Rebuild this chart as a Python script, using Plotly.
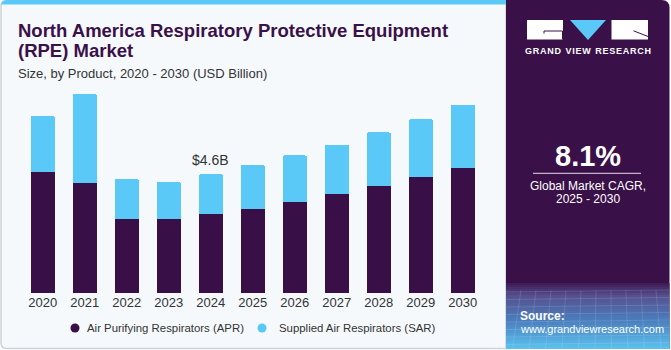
import plotly.graph_objects as go

# ---- data ----
years = ["2020", "2021", "2022", "2023", "2024", "2025", "2026", "2027", "2028", "2029", "2030"]
apr = [4.70, 4.26, 2.87, 2.87, 3.07, 3.27, 3.53, 3.84, 4.15, 4.48, 4.86]
sar = [2.15, 3.44, 1.55, 1.43, 1.53, 1.69, 1.80, 1.90, 2.07, 2.25, 2.43]
series_names = ["Air Purifying Respirators (APR)", "Supplied Air Respirators (SAR)"]
highlight_year = "2024"
highlight_label = "&#36;4.6B"
cagr_text = "8.1%"

W, H = 671, 350
APR_C = "#380f46"
SAR_C = "#5bc9f7"
PANEL_C = "#3a1049"
BG_C = "#f5f9fc"
FONT = "Liberation Sans, Arial, sans-serif"


def px(x):
    return x / W


def py(y):
    return 1 - y / H


fig = go.Figure()
fig.add_trace(go.Bar(x=years, y=apr, name=series_names[0], marker=dict(color=APR_C, line=dict(width=0))))
fig.add_trace(go.Bar(x=years, y=sar, name=series_names[1], marker=dict(color=SAR_C, line=dict(width=0))))

shapes = []
# left panel background
r = 6
x0, x1, y0, y1 = 1, 506, 0.5, 348.5
path = (f"M {px(x0+r)},{py(y0)} L {px(x1)},{py(y0)} L {px(x1)},{py(y1)} L {px(x0+r)},{py(y1)} "
        f"Q {px(x0)},{py(y1)} {px(x0)},{py(y1-r)} L {px(x0)},{py(y0+r)} Q {px(x0)},{py(y0)} {px(x0+r)},{py(y0)} Z")
shapes.append(dict(type="path", xref="paper", yref="paper", path=path, fillcolor=BG_C,
                   line=dict(color="#cdd2d6", width=1.5), layer="below"))
# top blue strip
path = (f"M {px(x0+r)},{py(0)} L {px(x1)},{py(0)} L {px(x1)},{py(4.5)} L {px(x0)},{py(4.5)} "
        f"L {px(x0)},{py(r)} Q {px(x0)},{py(0)} {px(x0+r)},{py(0)} Z")
shapes.append(dict(type="path", xref="paper", yref="paper", path=path, fillcolor=SAR_C,
                   line=dict(width=0), layer="below"))
# right panel
r2 = 8
rx0, rx1, ry0, ry1 = 506, 669.5, 0, 349
path = (f"M {px(rx0)},{py(ry0)} L {px(rx1-r2)},{py(ry0)} Q {px(rx1)},{py(ry0)} {px(rx1)},{py(ry0+r2)} "
        f"L {px(rx1)},{py(ry1)} L {px(rx0)},{py(ry1)} Z")
shapes.append(dict(type="path", xref="paper", yref="paper", path=path, fillcolor=PANEL_C,
                   line=dict(width=0), layer="below"))


# gradient bands at the bottom of right panel
def hex2rgb(h):
    h = h.lstrip("#")
    return tuple(int(h[i:i+2], 16) for i in (0, 2, 4))


stops = [(283, "#3d1a54"), (296, "#56508e"), (320, "#4a7dbd"), (349, "#5bc2ef")]
band = 2
yy = 283
while yy < 349:
    mid = yy + band / 2
    for (ya, ca), (yb, cb) in zip(stops[:-1], stops[1:]):
        if ya <= mid <= yb:
            t = (mid - ya) / (yb - ya)
            a, b = hex2rgb(ca), hex2rgb(cb)
            c = tuple(round(a[i] + (b[i] - a[i]) * t) for i in range(3))
            break
    shapes.append(dict(type="rect", xref="paper", yref="paper", x0=px(rx0), x1=px(rx1),
                       y0=py(min(yy + band, 349)), y1=py(yy), fillcolor=f"rgb{c}",
                       line=dict(width=0), layer="below"))
    yy += band
# faint grid lines in gradient zone
for i in range(12):
    xa = 506 + i * 15
    shapes.append(dict(type="line", xref="paper", yref="paper", x0=px(xa), x1=px(xa - 10 + i * 1.5),
                       y0=py(290), y1=py(349), line=dict(color="rgba(255,255,255,0.12)", width=1), layer="below"))
for j in range(8):
    yl = 292 + j * 7.5
    shapes.append(dict(type="line", xref="paper", yref="paper", x0=px(506), x1=px(669),
                       y0=py(yl), y1=py(yl - 2), line=dict(color="rgba(255,255,255,0.12)", width=1), layer="below"))

# logo
shapes.append(dict(type="rect", xref="paper", yref="paper", x0=px(527), x1=px(563), y0=py(39.5), y1=py(20),
                   fillcolor="white", line=dict(width=0)))
shapes.append(dict(type="path", xref="paper", yref="paper",
                   path=f"M {px(570)},{py(20)} L {px(606)},{py(20)} L {px(588)},{py(40)} Z",
                   fillcolor=SAR_C, line=dict(width=0)))
shapes.append(dict(type="rect", xref="paper", yref="paper", x0=px(611.5), x1=px(648), y0=py(39.5), y1=py(20),
                   fillcolor="white", line=dict(width=0)))
shapes.append(dict(type="path", xref="paper", yref="paper",
                   path=f"M {px(544)},{py(33.5)} L {px(544)},{py(31)} L {px(562.5)},{py(31)} L {px(562.5)},{py(39.5)}",
                   line=dict(color=PANEL_C, width=1)))
shapes.append(dict(type="line", xref="paper", yref="paper", x0=px(633.5), y0=py(30.8), x1=px(648), y1=py(36.5),
                   line=dict(color=PANEL_C, width=1)))
# separator line under CAGR
shapes.append(dict(type="line", xref="paper", yref="paper", x0=px(533), x1=px(641), y0=py(173.3), y1=py(173.3),
                   line=dict(color="rgba(255,255,255,0.85)", width=1)))

# manual legend dots
leg_dots = [(75, APR_C), (262, SAR_C)]
for cx, col in leg_dots:
    shapes.append(dict(type="circle", xref="paper", yref="paper", x0=px(cx - 4.5), x1=px(cx + 4.5),
                       y0=py(328 + 4.5), y1=py(328 - 4.5), fillcolor=col, line=dict(width=0)))

ann = []


def txt(x, y, s, size, color, xanchor="left", bold=False):
    ann.append(dict(x=px(x), y=py(y), xref="paper", yref="paper", text=f"<b>{s}</b>" if bold else s,
                    showarrow=False, xanchor=xanchor, yanchor="middle",
                    font=dict(family=FONT, size=size, color=color)))


txt(16, 30, "North America Respiratory Protective Equipment", 18.5, PANEL_C, bold=True)
txt(16, 51, "(RPE) Market", 18.5, PANEL_C, bold=True)
txt(16, 73, "Size, by Product, 2020 - 2030 (USD Billion)", 13, "#333333")
txt(85, 328, series_names[0], 11.4, "#333333")
txt(277, 328, series_names[1], 11.4, "#333333")
txt(588, 51, "G R A N D   V I E W   R E S E A R C H".replace("   ", "\u2002").replace(" ", "\u200a"), 9, "white", "center", bold=True)
txt(588, 156, cagr_text, 29, "white", "center", bold=True)
txt(588, 185.5, "Global Market CAGR,", 12, "white", "center")
txt(588, 199.5, "2025 - 2030", 12, "white", "center")
txt(518, 315.5, "Source:", 12, "white", bold=True)
txt(518, 329, "www.grandviewresearch.com", 11, "white")

# highlight label on 2024 bar (category index position)
hi = years.index(highlight_year)
ann.append(dict(x=hi, y=apr[hi] + sar[hi], xref="x", yref="y", text=highlight_label,
                showarrow=False, xanchor="center", yanchor="bottom", yshift=4,
                font=dict(family=FONT, size=14, color="#333333")))

fig.update_layout(
    width=W, height=H, margin=dict(l=0, r=0, t=0, b=0),
    paper_bgcolor="white", plot_bgcolor="rgba(0,0,0,0)",
    barmode="stack", bargap=0.42, barcornerradius=2,
    showlegend=False,
    shapes=shapes, annotations=ann,
    xaxis=dict(domain=[21.8 / W, 483.8 / W], range=[-0.5, 10.5], type="category",
               showgrid=False, zeroline=False, showline=False, ticks="",
               tickfont=dict(family=FONT, size=13, color="#333333"), fixedrange=True),
    yaxis=dict(domain=[py(293.3), py(80)], range=[0, 213.3 / 25.87], visible=False, fixedrange=True),
    font=dict(family=FONT),
)

fig.write_html("out.html")
